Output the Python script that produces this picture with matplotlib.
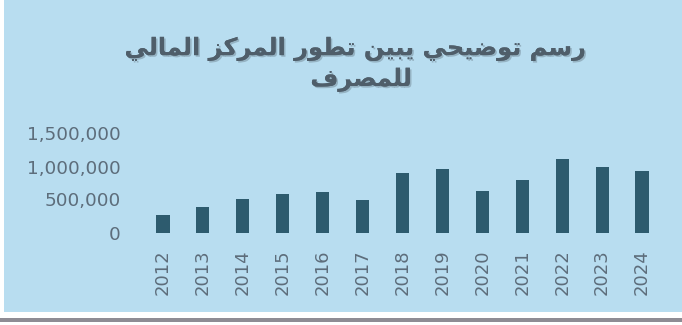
import matplotlib.pyplot as plt
from matplotlib.patches import Rectangle
from matplotlib.ticker import FuncFormatter
import matplotlib.patheffects as pe

years = ["2012", "2013", "2014", "2015", "2016", "2017", "2018",
         "2019", "2020", "2021", "2022", "2023", "2024"]
values = [258000, 383000, 509000, 580000, 621000, 490000, 894000,
          959000, 636000, 797000, 1110000, 990000, 939000]
yticks = [0, 500000, 1000000, 1500000]
title_lines = ["رسم توضيحي يبين تطور المركز المالي", "للمصرف"]

bg = "#b8ddf0"
bar_color = "#2d5b6e"
text_color = "#5d6d7b"

# arabic letters -> first presentation form (isolated) and number of forms
forms = {
    "ا": (0xFE8D, 2), "ب": (0xFE8F, 4), "ت": (0xFE95, 4), "ح": (0xFEA1, 4),
    "ر": (0xFEAD, 2), "ز": (0xFEAF, 2), "س": (0xFEB1, 4), "ص": (0xFEB9, 4),
    "ض": (0xFEBD, 4), "ط": (0xFEC1, 4), "ف": (0xFED1, 4), "ك": (0xFED9, 4),
    "ل": (0xFEDD, 4), "م": (0xFEE1, 4), "ن": (0xFEE5, 4), "و": (0xFEED, 2),
    "ي": (0xFEF1, 4),
}


def shape(line):
    out = []
    for i, ch in enumerate(line):
        if ch not in forms:
            out.append(ch)
            continue
        base, n = forms[ch]
        prev = line[i - 1] if i > 0 else " "
        nxt = line[i + 1] if i + 1 < len(line) else " "
        join_prev = prev in forms and forms[prev][1] == 4
        join_next = n == 4 and nxt in forms
        if join_prev and join_next:
            k = 3
        elif join_prev:
            k = 1
        elif join_next:
            k = 2
        else:
            k = 0
        out.append(chr(base + k))
    return "".join(out)[::-1]


fig = plt.figure(figsize=(6.82, 3.25), dpi=100, facecolor="white")
fig.patches.append(Rectangle((4 / 682, 13 / 325), 1, 1, transform=fig.transFigure,
                             facecolor=bg, edgecolor="none", zorder=-2))
fig.patches.append(Rectangle((0, 3 / 325), 1, 4 / 325, transform=fig.transFigure,
                             facecolor="#8e8c94", edgecolor="none", zorder=-2))

ax = fig.add_axes([143 / 682, 92.5 / 325, 519 / 682, 99 / 325])
ax.set_facecolor("none")
x = range(len(years))
ax.bar(x, values, width=0.33, color=bar_color)
ax.set_xlim(-0.5, len(years) - 0.5)
ax.set_ylim(0, 1500000)
ax.set_yticks(yticks)
ax.yaxis.set_major_formatter(FuncFormatter(lambda v, p: f"{int(v):,}"))
ax.set_xticks(list(x))
ax.set_xticklabels(years, rotation=90)
for s in ax.spines.values():
    s.set_visible(False)
ax.tick_params(axis="y", length=0, pad=16, labelsize=13.3, labelcolor=text_color)
ax.tick_params(axis="x", length=0, pad=12, labelsize=13, labelcolor=text_color)
for lbl in ax.get_xticklabels() + ax.get_yticklabels():
    lbl.set_fontfamily("DejaVu Sans")

shadow = [pe.withSimplePatchShadow(offset=(1.2, -1.2), shadow_rgbFace="#7f97a6", alpha=0.6),
          pe.Normal()]
fig.text(355 / 682, 1 - 49 / 325, shape(title_lines[0]), ha="center", va="center",
         fontsize=17.3, fontweight="bold", color="#4f5e6a", family="DejaVu Sans",
         path_effects=shadow)
fig.text(361 / 682, 1 - 80 / 325, shape(title_lines[1]), ha="center", va="center",
         fontsize=17.3, fontweight="bold", color="#4f5e6a", family="DejaVu Sans",
         path_effects=shadow)

fig.savefig("out.png", dpi=100, facecolor="white")
